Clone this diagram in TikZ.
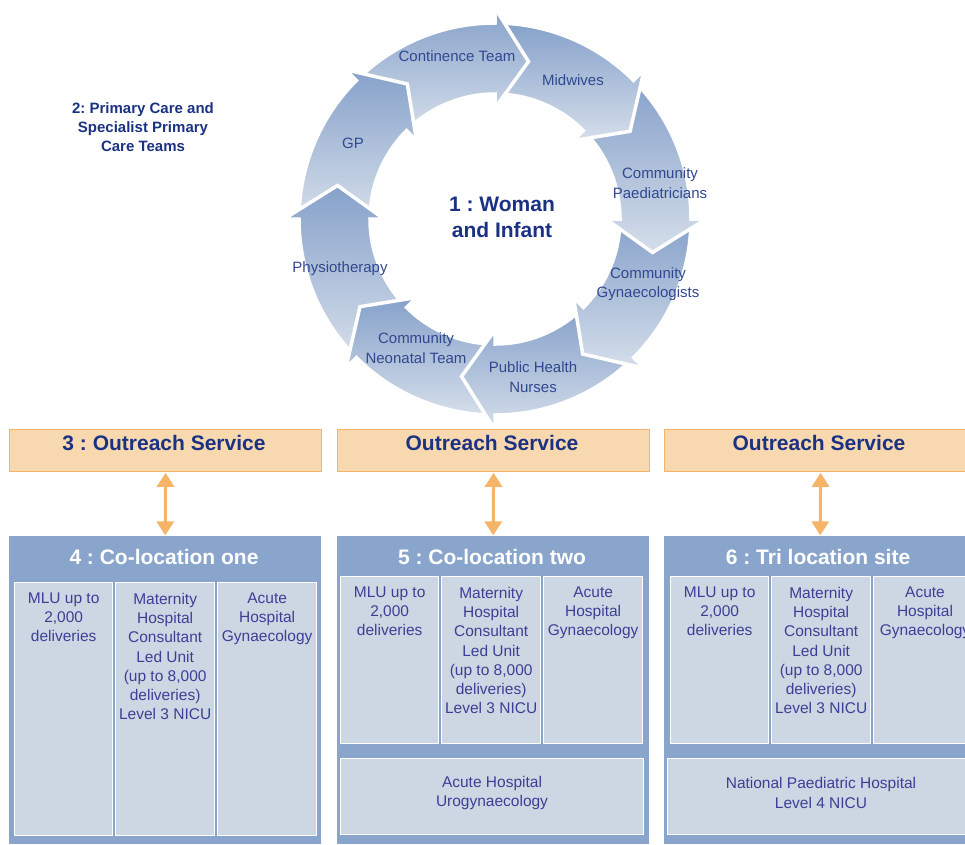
\documentclass[tikz,border=0pt]{standalone}
\usepackage{fontspec}
\setmainfont{Liberation Sans}
\frenchspacing
\usetikzlibrary{arrows.meta,calc}
\definecolor{ringdark}{HTML}{86A1CA}
\definecolor{ringlight}{HTML}{D5DEEA}
\definecolor{navy}{HTML}{1B3282}
\definecolor{ringtext}{HTML}{30488F}
\definecolor{boxtext}{HTML}{3D3F95}
\definecolor{orangefill}{HTML}{F8D8AF}
\definecolor{orangeline}{HTML}{F5B468}
\definecolor{colfill}{HTML}{8AA5CB}
\definecolor{infill}{HTML}{CDD7E4}
\newcommand\segpath[1]{(#1:196) arc[start angle=#1, end angle=#1-45, radius=196pt]
  -- (#1-45:211) -- (#1-57:161) -- (#1-45:111)
  -- (#1-45:125) arc[start angle=#1-45, end angle=#1, radius=125pt] -- cycle}
\tikzset{
  segstyle/.style={top color=ringdark, bottom color=ringlight, draw=white, line width=3.5pt, line join=miter},
  ringlabel/.style={text=ringtext, font=\fontsize{15}{19.5}\selectfont, align=center, inner sep=0pt},
  headtext/.style={text=navy, font=\bfseries\fontsize{21}{26}\selectfont, align=center, inner sep=0pt},
  smallhead/.style={text=navy, font=\bfseries\fontsize{15}{19}\selectfont, align=center, inner sep=0pt},
  outbox/.style={draw=orangeline, fill=orangefill, line width=1.2pt, minimum width=312pt, minimum height=42pt, inner sep=0pt, anchor=north west},
  colbox/.style={fill=colfill, minimum width=312pt, minimum height=308pt, inner sep=0pt, anchor=north west},
  coltitle/.style={text=white, font=\bfseries\fontsize{21}{26}\selectfont, inner sep=0pt},
  inbox/.style={fill=infill, draw=white, line width=1.3pt, inner sep=0pt, anchor=north west},
  intext/.style={text=boxtext, font=\fontsize{15.5}{19.2}\selectfont, align=center, inner sep=0pt},
  oarrow/.style={draw=orangeline, line width=3pt, {Triangle[width=17pt,length=14pt]}-{Triangle[width=17pt,length=14pt]}, shorten <=0.6pt, shorten >=0.6pt}
}
\begin{document}
\begin{tikzpicture}[x=1pt,y=1pt]
\useasboundingbox (0,0) rectangle (965,-844);
% ring
\begin{scope}[shift={(495,-219)}]
  \path[segstyle] \segpath{180};
  \path[segstyle] \segpath{225};
  \path[segstyle] \segpath{270};
  \path[segstyle] \segpath{315};
  \path[segstyle] \segpath{360};
  \path[segstyle] \segpath{45};
  \path[segstyle] \segpath{90};
  \path[segstyle] \segpath{135};
  \begin{scope}
    \clip (0,0) -- (150:260) -- (118:260) -- cycle;
    \path[segstyle] \segpath{180};
  \end{scope}
\end{scope}
\node[ringlabel] (lcont) at (457,-56) {Continence Team};
\node[ringlabel] (lmid) at (573,-80) {Midwives};
\node[ringlabel] (lpaed) at (660,-183) {Community\\Paediatricians};
\node[ringlabel] (lgyn) at (648,-284) {Community\\Gynaecologists};
\node[ringlabel] (lphn) at (533,-377) {Public Health\\Nurses};
\node[ringlabel] (lneo) at (416,-348) {Community\\Neonatal Team};
\node[ringlabel] (lphys) at (340,-269) {Physiotherapy};
\node[ringlabel] (lgp) at (353,-143) {GP};
\node[headtext] (woman) at (502,-217) {1 : Woman\\and Infant};
\node[smallhead] (primary) at (143,-127) {2: Primary Care and\\Specialist Primary\\Care Teams};
% outreach boxes
\node[outbox] (o1) at (9,-429) {};
\node[outbox] (o2) at (337,-429) {};
\node[outbox] (o3) at (664,-429) {};
\node[headtext] (t1) at (164,-443) {3 : Outreach Service};
\node[headtext] (t2) at (492,-443) {Outreach Service};
\node[headtext] (t3) at (819,-443) {Outreach Service};
% co-location boxes
\node[colbox] (c1) at (9,-536) {};
\node[colbox] (c2) at (337,-536) {};
\node[colbox] (c3) at (664,-536) {};
\node[coltitle] (ct1) at (164,-557) {4 : Co-location one};
\node[coltitle] (ct2) at (492,-557) {5 : Co-location two};
\node[coltitle] (ct3) at (818,-557) {6 : Tri location site};
% arrows
\draw[oarrow] (o1.south) -- (c1.north);
\draw[oarrow] (o2.south) -- (c2.north);
\draw[oarrow] (o3.south) -- (c3.north);
% inner boxes column 1
\node[inbox, minimum width=98pt, minimum height=253pt] (a1) at (14,-582) {};
\node[inbox, minimum width=99pt, minimum height=253pt] (a2) at (115,-582) {};
\node[inbox, minimum width=99pt, minimum height=253pt] (a3) at (217,-582) {};
\node[intext, anchor=north] at ($(a1.north)+(0,-10.5)$) {MLU up to\\2,000\\deliveries};
\node[intext, anchor=north] at ($(a2.north)+(0,-11)$) {Maternity\\Hospital\\Consultant\\Led Unit\\(up to 8,000\\deliveries)\\Level 3 NICU};
\node[intext, anchor=north] at ($(a3.north)+(0,-10.5)$) {Acute\\Hospital\\Gynaecology};
% column 2
\node[inbox, minimum width=98pt, minimum height=167pt] (b1) at (340,-576) {};
\node[inbox, minimum width=99pt, minimum height=167pt] (b2) at (441,-576) {};
\node[inbox, minimum width=99pt, minimum height=167pt] (b3) at (543,-576) {};
\node[inbox, minimum width=303pt, minimum height=76pt] (b4) at (340,-758) {};
\node[intext, anchor=north] at ($(b1.north)+(0,-10.5)$) {MLU up to\\2,000\\deliveries};
\node[intext, anchor=north] at ($(b2.north)+(0,-11)$) {Maternity\\Hospital\\Consultant\\Led Unit\\(up to 8,000\\deliveries)\\Level 3 NICU};
\node[intext, anchor=north] at ($(b3.north)+(0,-10.5)$) {Acute\\Hospital\\Gynaecology};
\node[intext] at (492,-793) {Acute Hospital\\Urogynaecology};
% column 3
\node[inbox, minimum width=98pt, minimum height=167pt] (d1) at (670,-576) {};
\node[inbox, minimum width=99pt, minimum height=167pt] (d2) at (771,-576) {};
\node[inbox, minimum width=104pt, minimum height=167pt] (d3) at (873,-576) {};
\node[inbox, minimum width=310pt, minimum height=76pt] (d4) at (667,-758) {};
\node[intext, anchor=north] at ($(d1.north)+(0,-10.5)$) {MLU up to\\2,000\\deliveries};
\node[intext, anchor=north] at ($(d2.north)+(0,-11)$) {Maternity\\Hospital\\Consultant\\Led Unit\\(up to 8,000\\deliveries)\\Level 3 NICU};
\node[intext, anchor=north] at (925,-586.5) {Acute\\Hospital\\Gynaecology};
\node[intext] at (821,-793) {National Paediatric Hospital\\Level 4 NICU};
\end{tikzpicture}
\end{document}
